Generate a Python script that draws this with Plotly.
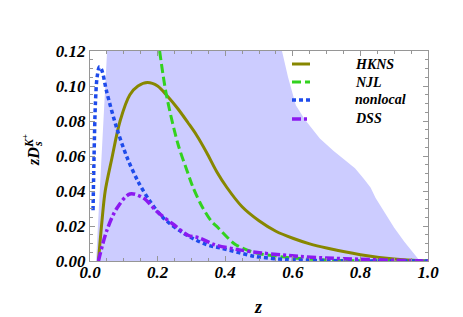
import plotly.graph_objects as go

# ---- data ----
band_z = [0.018, 0.049, 0.056, 0.55, 0.568, 0.586, 0.609, 0.635, 0.66, 0.68, 0.72, 0.76, 0.784,
          0.81, 0.83, 0.845, 0.87, 0.90, 0.93, 0.95, 0.976]
band_up = [0.0, 0.12, 0.14, 0.14, 0.12, 0.105, 0.089, 0.081, 0.075, 0.070, 0.063, 0.057, 0.053,
           0.047, 0.042, 0.036, 0.028, 0.019, 0.011, 0.006, 0.0]

hkns_z = [0.025, 0.035, 0.045, 0.064, 0.089, 0.118, 0.142, 0.170, 0.20, 0.230, 0.260, 0.29,
          0.315, 0.345, 0.375, 0.405, 0.45, 0.50, 0.55, 0.60, 0.65, 0.70, 0.80, 0.90, 1.0]
hkns = [0.0, 0.022, 0.040, 0.058, 0.080, 0.095, 0.100, 0.102, 0.1, 0.094, 0.087, 0.079,
        0.072, 0.062, 0.051, 0.042, 0.031, 0.023, 0.017, 0.013, 0.0098, 0.0074, 0.0036, 0.0011, 0.0]

njl_z = [0.206, 0.226, 0.26, 0.29, 0.305, 0.329, 0.358, 0.379, 0.43, 0.487, 0.556, 0.6, 0.7, 0.8, 1.0]
njl = [0.12, 0.095, 0.067, 0.050, 0.042, 0.032, 0.023, 0.019, 0.0095, 0.0048, 0.0027, 0.0017,
       0.0006, 0.0001, 0.0]

nonlocal_z = [0.009, 0.012, 0.016, 0.021, 0.028, 0.035, 0.049, 0.079, 0.11, 0.142, 0.178,
              0.217, 0.276, 0.345, 0.388, 0.487, 0.586, 0.7, 0.85, 1.0]
nonlocal_v = [0.029, 0.06, 0.09, 0.105, 0.111, 0.109, 0.097, 0.076, 0.059, 0.0455, 0.034,
              0.0246, 0.016, 0.0093, 0.0074, 0.0027, 0.0008, 0.0002, 0.0, 0.0]

dss_z = [0.025, 0.049, 0.079, 0.118, 0.158, 0.197, 0.246, 0.29, 0.325, 0.369, 0.438, 0.507,
         0.615, 0.7, 0.8, 0.9, 1.0]
dss = [0.0, 0.017, 0.030, 0.0383, 0.036, 0.0284, 0.021, 0.0147, 0.0131, 0.0093, 0.0065, 0.0046,
       0.0027, 0.0017, 0.001, 0.0004, 0.0]

x_ticks = [0.0, 0.2, 0.4, 0.6, 0.8, 1.0]
x_tick_labels = ["0.0", "0.2", "0.4", "0.6", "0.8", "1.0"]
y_ticks = [0.0, 0.02, 0.04, 0.06, 0.08, 0.10, 0.12]
y_tick_labels = ["0.00", "0.02", "0.04", "0.06", "0.08", "0.10", "0.12"]

names = ["HKNS", "NJL", "nonlocal", "DSS"]
colors = ["rgb(135,135,0)", "rgb(50,210,30)", "rgb(30,75,235)", "rgb(140,25,240)"]
dashes = ["solid", "9px,4px", "4px,3px", "9px,3px,3px,3px"]
widths = [3, 3, 3.5, 3.5]

SERIF = "Liberation Serif"

fig = go.Figure()

fig.add_trace(go.Scatter(x=band_z, y=band_up, mode="lines", fill="tozeroy",
                         fillcolor="rgb(204,204,255)", line=dict(width=0, color="rgb(204,204,255)"),
                         showlegend=False, hoverinfo="skip"))

series = [(hkns_z, hkns), (njl_z, njl), (nonlocal_z, nonlocal_v), (dss_z, dss)]
for (xs, ys), name, c, d, w in zip(series, names, colors, dashes, widths):
    fig.add_trace(go.Scatter(x=xs, y=ys, mode="lines", name=name,
                             line=dict(color=c, dash=d, width=w, shape="spline", smoothing=0.9),
                             showlegend=False))

# manual legend
L, R, T, B = 82, 420, 43, 253
def px(xp):
    return (xp - L) / (R - L)
def py(yp):
    return (B - yp) / (B - T)

legend_y = [56, 74, 92, 111]
shapes = []
annotations = []
for name, c, d, w, yy in zip(names, colors, dashes, widths, legend_y):
    shapes.append(dict(type="line", xref="paper", yref="paper", x0=px(284), x1=px(302),
                       y0=py(yy), y1=py(yy), line=dict(color=c, dash=d, width=w)))
    annotations.append(dict(xref="paper", yref="paper", x=px(345), y=py(yy), text=name,
                            showarrow=False, xanchor="left", yanchor="middle",
                            font=dict(family=SERIF, size=14, color="black",
                                      weight="bold", style="italic")))

lab_font = dict(family=SERIF, size=17, color="black", weight="bold", style="italic")
annotations.append(dict(xref="paper", yref="paper", x=px(250), y=py(299), text="z",
                        showarrow=False, xanchor="center", yanchor="middle",
                        font=dict(family=SERIF, size=18, color="black", weight="bold",
                                  style="italic")))
annotations.append(dict(xref="paper", yref="paper", x=px(25), y=py(149), text="zD",
                        showarrow=False, xanchor="center", yanchor="middle", textangle=-90,
                        font=dict(family=SERIF, size=16, color="black",
                                  weight="bold", style="italic")))
annotations.append(dict(xref="paper", yref="paper", x=px(20), y=py(133), text="K<sup>+</sup>",
                        showarrow=False, xanchor="center", yanchor="middle", textangle=-90,
                        font=dict(family=SERIF, size=12, color="black",
                                  weight="bold", style="italic")))
annotations.append(dict(xref="paper", yref="paper", x=px(30), y=py(136), text="s",
                        showarrow=False, xanchor="center", yanchor="middle", textangle=-90,
                        font=dict(family=SERIF, size=12, color="black",
                                  weight="bold", style="italic")))

axis_common = dict(showline=True, linecolor="rgb(150,150,150)", linewidth=1, mirror="allticks",
                   ticks="inside", ticklen=5, tickcolor="rgb(150,150,150)", showgrid=False,
                   zeroline=False, tickfont=lab_font)

fig.update_xaxes(range=[0, 1], tickvals=x_ticks, ticktext=x_tick_labels,
                 ticklabelstandoff=-4,
                 minor=dict(dtick=0.05, ticks="inside", ticklen=3, tickcolor="rgb(150,150,150)"),
                 **axis_common)
fig.update_yaxes(range=[0, 0.12], tickvals=y_ticks, ticktext=y_tick_labels,
                 minor=dict(dtick=0.005, ticks="inside", ticklen=3, tickcolor="rgb(150,150,150)"),
                 **axis_common)

fig.update_layout(width=463, height=317, margin=dict(l=L, r=463 - R, t=T, b=317 - B),
                  paper_bgcolor="white", plot_bgcolor="white",
                  shapes=shapes, annotations=annotations)

fig.write_html("out.html")
